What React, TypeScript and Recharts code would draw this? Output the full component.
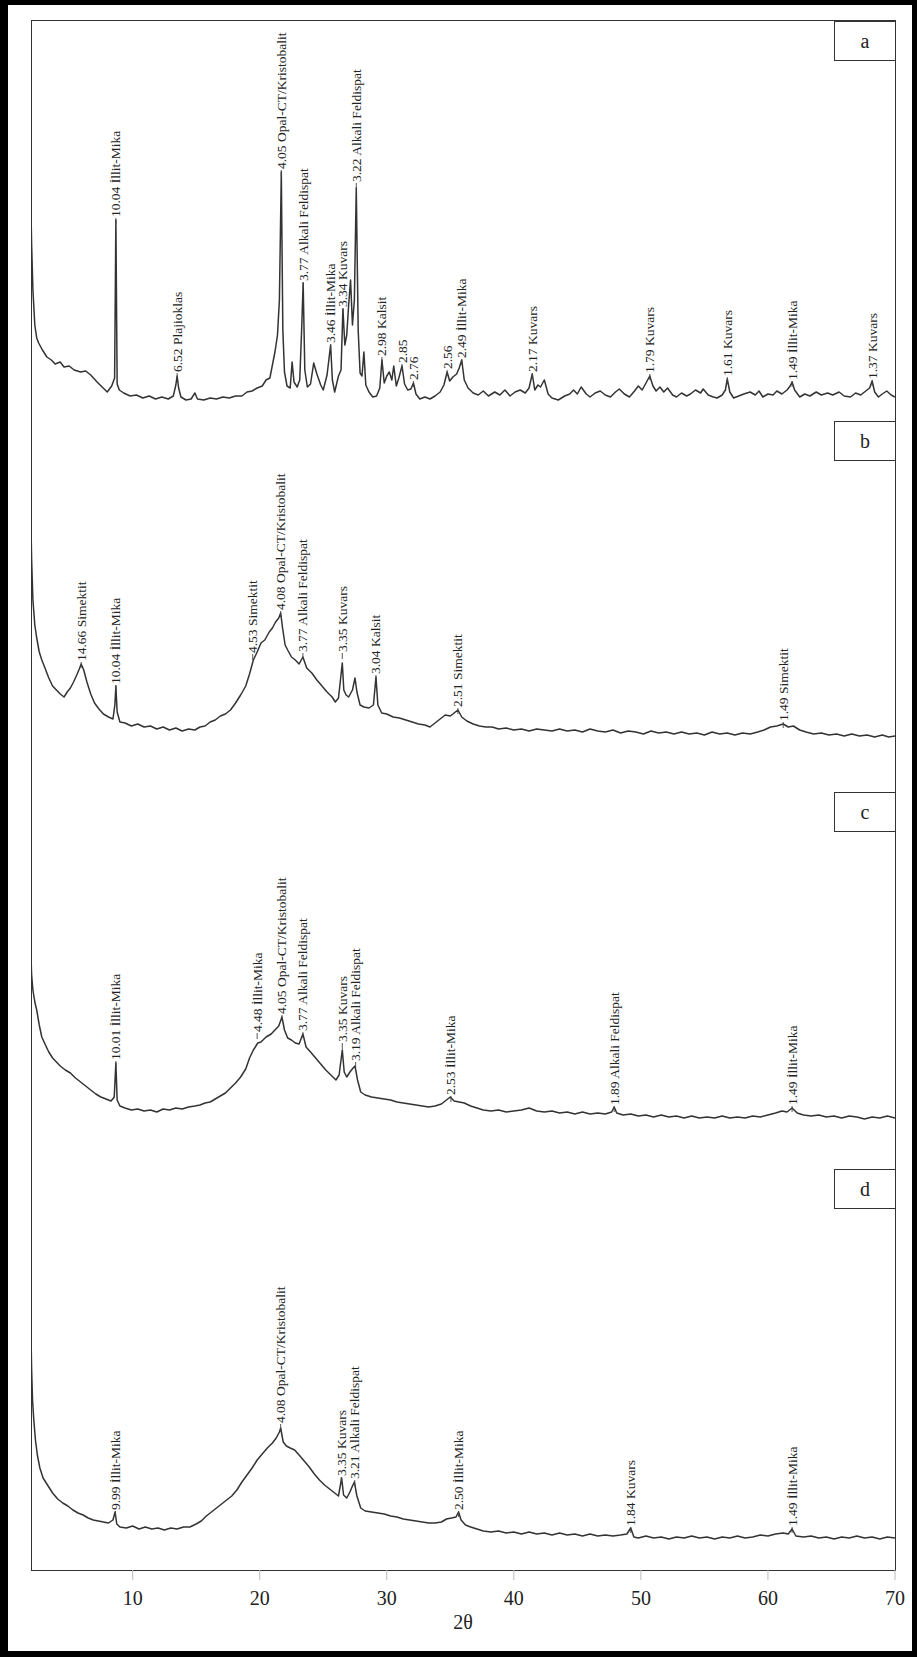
import React from 'react'
import { ComposedChart, Line, Scatter, XAxis, YAxis } from 'recharts'

// 2θ tick labels on the shared bottom axis
const tickValues = [10, 20, 30, 40, 50, 60, 70]

// [2θ, intensity] (arbitrary counts)
const traceA: [number, number][] = [
  [2.0, 197], [2.05, 165], [2.15, 120], [2.3, 85], [2.45, 72], [2.6, 67], [2.9, 60], [3.25, 53],
  [3.6, 50], [3.9, 46], [4.3, 48], [4.6, 43], [5.0, 44], [5.4, 40], [5.9, 38], [6.3, 39],
  [6.7, 35], [7.2, 28], [7.6, 23], [8.0, 18], [8.35, 24], [8.58, 32], [8.68, 190], [8.78, 26],
  [8.95, 20], [9.3, 17], [9.8, 14], [10.3, 15], [10.8, 12], [11.3, 14], [11.8, 11], [12.3, 13],
  [12.8, 11], [13.2, 14], [13.4, 25], [13.5, 34], [13.62, 22], [13.8, 13], [14.2, 10], [14.6, 11],
  [14.9, 17], [15.1, 11], [15.6, 10], [16.1, 12], [16.6, 11], [17.1, 13], [17.6, 12], [18.1, 14],
  [18.6, 14], [19.0, 18], [19.4, 19], [19.8, 22], [20.2, 24], [20.5, 30], [20.8, 32], [21.0, 45],
  [21.2, 58], [21.4, 75], [21.55, 110], [21.7, 238], [21.82, 80], [21.95, 38], [22.15, 24], [22.4, 22],
  [22.55, 48], [22.7, 28], [22.95, 23], [23.15, 30], [23.3, 80], [23.42, 127], [23.55, 40], [23.75, 23],
  [24.0, 26], [24.25, 47], [24.5, 36], [24.8, 25], [25.0, 20], [25.3, 35], [25.58, 65], [25.72, 30],
  [25.9, 18], [26.2, 34], [26.4, 40], [26.55, 101], [26.7, 65], [26.85, 75], [27.0, 105], [27.15, 130],
  [27.3, 85], [27.45, 110], [27.6, 222], [27.75, 80], [27.9, 37], [28.05, 34], [28.2, 58], [28.35, 25],
  [28.6, 18], [28.9, 13], [29.2, 14], [29.45, 22], [29.62, 50], [29.8, 27], [30.0, 34], [30.2, 38],
  [30.4, 30], [30.55, 44], [30.75, 24], [30.95, 32], [31.2, 44], [31.4, 26], [31.65, 20], [31.9, 21],
  [32.1, 27], [32.3, 16], [32.6, 11], [33.0, 13], [33.4, 11], [33.8, 14], [34.2, 18], [34.5, 25],
  [34.75, 38], [34.95, 29], [35.2, 33], [35.5, 36], [35.7, 42], [35.9, 50], [36.1, 30], [36.4, 22],
  [36.8, 17], [37.2, 15], [37.6, 19], [38.0, 14], [38.5, 18], [38.9, 15], [39.3, 20], [39.7, 14],
  [40.1, 18], [40.5, 20], [40.9, 17], [41.2, 22], [41.45, 36], [41.65, 20], [41.9, 25], [42.1, 23],
  [42.4, 30], [42.7, 16], [43.0, 12], [43.5, 10], [44.0, 14], [44.4, 16], [44.7, 20], [45.0, 16],
  [45.3, 23], [45.7, 16], [46.0, 13], [46.4, 17], [46.8, 19], [47.2, 15], [47.6, 13], [48.0, 18],
  [48.3, 21], [48.7, 16], [49.1, 13], [49.5, 19], [49.8, 24], [50.1, 20], [50.4, 27], [50.7, 34],
  [50.95, 24], [51.2, 19], [51.5, 23], [51.8, 18], [52.1, 22], [52.5, 15], [52.8, 13], [53.2, 17],
  [53.6, 14], [53.9, 16], [54.3, 20], [54.7, 17], [54.9, 21], [55.3, 15], [55.7, 13], [56.0, 12],
  [56.4, 15], [56.65, 20], [56.8, 31], [57.0, 18], [57.3, 12], [57.7, 14], [58.1, 16], [58.6, 18],
  [59.0, 15], [59.3, 19], [59.6, 13], [60.0, 16], [60.4, 15], [60.7, 19], [61.1, 16], [61.5, 20],
  [61.75, 24], [61.9, 28], [62.1, 20], [62.5, 13], [62.9, 16], [63.3, 14], [63.8, 18], [64.2, 15],
  [64.7, 17], [65.1, 15], [65.6, 18], [66.0, 14], [66.5, 13], [66.9, 17], [67.3, 15], [67.7, 19],
  [68.0, 22], [68.2, 29], [68.4, 18], [68.7, 13], [69.0, 16], [69.35, 19], [69.7, 15], [70.0, 13],
]

const traceB: [number, number][] = [
  [2.0, 248], [2.05, 215], [2.15, 175], [2.3, 150], [2.45, 137], [2.65, 123], [2.85, 115], [3.1, 107],
  [3.4, 97], [3.7, 89], [4.0, 85], [4.3, 81], [4.6, 78], [4.85, 83], [5.1, 87], [5.35, 93],
  [5.6, 100], [5.8, 106], [5.95, 111], [6.15, 105], [6.4, 93], [6.7, 81], [7.0, 72], [7.35, 66],
  [7.7, 61], [8.1, 58], [8.45, 56], [8.6, 70], [8.68, 89], [8.78, 63], [9.0, 53], [9.4, 52],
  [9.9, 49], [10.4, 51], [10.9, 48], [11.4, 49], [11.9, 46], [12.4, 48], [12.9, 45], [13.4, 47],
  [13.9, 44], [14.4, 46], [14.9, 45], [15.3, 48], [15.7, 49], [16.1, 53], [16.5, 55], [16.9, 59],
  [17.3, 61], [17.7, 65], [18.1, 72], [18.5, 80], [18.9, 89], [19.2, 101], [19.5, 115], [19.8, 123],
  [20.1, 132], [20.4, 135], [20.75, 143], [21.0, 147], [21.25, 153], [21.5, 157], [21.65, 162], [21.8, 147],
  [22.0, 130], [22.2, 125], [22.5, 118], [22.8, 115], [23.1, 111], [23.4, 118], [23.7, 107], [24.1, 102],
  [24.5, 95], [24.9, 89], [25.3, 83], [25.7, 78], [25.95, 73], [26.2, 77], [26.5, 112], [26.62, 85],
  [26.8, 80], [27.0, 78], [27.3, 85], [27.5, 97], [27.65, 83], [27.9, 70], [28.2, 68], [28.6, 67],
  [28.95, 70], [29.15, 98], [29.3, 70], [29.6, 62], [30.0, 61], [30.5, 58], [31.0, 57], [31.5, 55],
  [32.0, 53], [32.5, 51], [33.0, 50], [33.4, 48], [33.8, 52], [34.2, 56], [34.6, 60], [35.0, 59],
  [35.3, 62], [35.6, 65], [35.9, 58], [36.3, 54], [36.8, 51], [37.3, 49], [37.8, 48], [38.3, 48],
  [38.8, 46], [39.4, 47], [40.0, 45], [40.6, 46], [41.2, 44], [41.8, 46], [42.4, 45], [43.0, 44],
  [43.6, 46], [44.2, 44], [44.8, 45], [45.4, 43], [46.0, 46], [46.6, 44], [47.2, 43], [47.8, 45],
  [48.4, 42], [49.0, 44], [49.6, 43], [50.2, 41], [50.8, 44], [51.4, 42], [52.0, 43], [52.6, 41],
  [53.2, 43], [53.8, 41], [54.4, 42], [55.0, 40], [55.6, 43], [56.2, 41], [56.8, 42], [57.4, 40],
  [58.0, 42], [58.6, 41], [59.2, 43], [59.7, 45], [60.2, 48], [60.7, 49], [61.2, 51], [61.6, 48],
  [62.0, 49], [62.5, 45], [63.0, 43], [63.6, 41], [64.2, 42], [64.8, 40], [65.4, 41], [66.0, 39],
  [66.6, 41], [67.2, 39], [67.8, 40], [68.4, 38], [69.0, 40], [69.5, 38], [70.0, 39],
]

const traceC: [number, number][] = [
  [2.0, 203], [2.05, 185], [2.15, 170], [2.3, 158], [2.45, 150], [2.65, 135], [2.85, 123], [3.1, 116],
  [3.4, 108], [3.7, 102], [4.0, 98], [4.3, 94], [4.7, 90], [5.1, 87], [5.5, 82], [5.9, 78],
  [6.3, 74], [6.7, 70], [7.1, 66], [7.5, 63], [7.9, 61], [8.3, 59], [8.55, 63], [8.68, 97],
  [8.78, 60], [9.0, 54], [9.4, 52], [9.9, 50], [10.4, 51], [10.9, 49], [11.4, 50], [11.9, 48],
  [12.4, 51], [12.9, 50], [13.4, 52], [13.9, 51], [14.4, 53], [14.9, 54], [15.3, 55], [15.7, 57],
  [16.1, 58], [16.5, 61], [16.9, 64], [17.3, 67], [17.7, 72], [18.1, 77], [18.5, 83], [18.9, 91],
  [19.2, 102], [19.5, 110], [19.85, 117], [20.1, 118], [20.5, 123], [20.9, 126], [21.2, 130], [21.5, 134],
  [21.75, 143], [21.95, 130], [22.2, 122], [22.5, 120], [22.8, 117], [23.1, 116], [23.4, 126], [23.65, 113],
  [24.0, 108], [24.4, 102], [24.8, 96], [25.2, 90], [25.6, 85], [26.0, 80], [26.25, 85], [26.5, 110],
  [26.65, 88], [26.85, 83], [27.1, 88], [27.35, 92], [27.5, 94], [27.7, 80], [27.95, 68], [28.3, 65],
  [28.8, 63], [29.3, 62], [29.8, 61], [30.3, 60], [30.8, 58], [31.3, 57], [31.8, 56], [32.3, 55],
  [32.8, 54], [33.3, 53], [33.8, 54], [34.3, 56], [34.7, 60], [35.0, 63], [35.3, 59], [35.7, 58],
  [36.1, 57], [36.6, 54], [37.1, 52], [37.6, 50], [38.2, 49], [38.8, 50], [39.4, 48], [40.0, 49],
  [40.6, 50], [41.2, 52], [41.8, 49], [42.4, 48], [43.0, 49], [43.6, 47], [44.2, 48], [44.8, 46],
  [45.4, 48], [46.0, 46], [46.6, 47], [47.2, 46], [47.7, 48], [47.9, 53], [48.1, 47], [48.6, 45],
  [49.2, 46], [49.8, 44], [50.4, 45], [51.0, 43], [51.6, 45], [52.2, 43], [52.8, 44], [53.4, 42],
  [54.0, 44], [54.6, 42], [55.2, 43], [55.8, 42], [56.4, 44], [57.0, 42], [57.6, 43], [58.2, 42],
  [58.8, 44], [59.4, 43], [60.0, 45], [60.6, 47], [61.1, 49], [61.5, 48], [61.9, 52], [62.3, 47],
  [62.8, 45], [63.4, 44], [64.0, 45], [64.6, 43], [65.2, 44], [65.8, 42], [66.4, 44], [67.0, 43],
  [67.6, 41], [68.2, 43], [68.8, 42], [69.4, 44], [70.0, 42],
]

const traceD: [number, number][] = [
  [2.0, 235], [2.05, 200], [2.12, 170], [2.22, 150], [2.35, 130], [2.5, 115], [2.7, 102], [2.95, 92],
  [3.3, 85], [3.7, 77], [4.1, 71], [4.5, 67], [4.9, 64], [5.3, 60], [5.7, 57], [6.1, 55],
  [6.5, 52], [6.9, 50], [7.3, 49], [7.7, 48], [8.1, 47], [8.45, 50], [8.62, 58], [8.75, 46],
  [9.0, 43], [9.5, 42], [10.0, 44], [10.5, 41], [11.0, 43], [11.5, 41], [12.0, 42], [12.5, 40],
  [13.0, 42], [13.5, 41], [14.0, 43], [14.5, 43], [15.0, 46], [15.4, 49], [15.8, 54], [16.2, 58],
  [16.6, 62], [17.0, 66], [17.4, 70], [17.8, 74], [18.2, 80], [18.6, 88], [19.0, 95], [19.4, 102],
  [19.8, 110], [20.2, 116], [20.6, 122], [21.0, 127], [21.3, 132], [21.55, 138], [21.65, 142], [21.85, 128],
  [22.1, 124], [22.4, 122], [22.75, 120], [23.1, 115], [23.5, 109], [23.9, 103], [24.3, 96], [24.7, 90],
  [25.1, 85], [25.5, 81], [25.9, 77], [26.2, 74], [26.45, 92], [26.6, 75], [26.85, 72], [27.1, 78],
  [27.3, 84], [27.45, 88], [27.65, 74], [27.95, 62], [28.3, 59], [28.8, 58], [29.3, 57], [29.8, 56],
  [30.3, 54], [30.8, 53], [31.3, 51], [31.8, 50], [32.3, 49], [32.8, 48], [33.3, 47], [33.8, 47],
  [34.3, 48], [34.7, 51], [35.1, 52], [35.45, 53], [35.65, 58], [35.85, 50], [36.2, 45], [36.6, 43],
  [37.1, 41], [37.6, 39], [38.2, 38], [38.8, 39], [39.4, 37], [40.0, 38], [40.6, 36], [41.2, 38],
  [41.8, 36], [42.4, 37], [43.0, 35], [43.6, 37], [44.2, 35], [44.8, 36], [45.4, 34], [46.0, 36],
  [46.6, 34], [47.2, 35], [47.8, 34], [48.4, 35], [48.9, 36], [49.2, 42], [49.45, 33], [49.8, 32],
  [50.4, 34], [51.0, 32], [51.6, 33], [52.2, 31], [52.8, 33], [53.4, 32], [54.0, 34], [54.6, 32],
  [55.2, 33], [55.8, 31], [56.4, 33], [57.0, 32], [57.6, 34], [58.2, 32], [58.8, 33], [59.4, 35],
  [60.0, 34], [60.6, 36], [61.2, 37], [61.6, 36], [61.9, 41], [62.2, 34], [62.8, 33], [63.4, 34],
  [64.0, 32], [64.6, 33], [65.2, 31], [65.8, 33], [66.4, 32], [67.0, 34], [67.6, 32], [68.2, 33],
  [68.8, 31], [69.4, 33], [70.0, 32],
]

// [2θ, label height, d-spacing + mineral]
const peaksA: [number, number, string][] = [
  [8.68, 192, '10.04 İllit-Mika'],
  [13.5, 37, '6.52 Plajioklas'],
  [21.7, 240, '4.05 Opal-CT/Kristobalit'],
  [23.42, 128, '3.77 Alkali Feldispat'],
  [25.58, 66, '3.46 İllit-Mika'],
  [26.55, 102, '3.34 Kuvars'],
  [27.6, 227, '3.22 Alkali Feldispat'],
  [29.62, 53, '2.98 Kalsit'],
  [31.2, 46, '2.85'],
  [32.1, 29, '2.76'],
  [34.75, 40, '2.56'],
  [35.9, 51, '2.49 İllit-Mika'],
  [41.45, 37, '2.17 Kuvars'],
  [50.7, 36, '1.79 Kuvars'],
  [56.8, 33, '1.61 Kuvars'],
  [61.9, 29, '1.49 İllit-Mika'],
  [68.2, 30, '1.37 Kuvars'],
]

const peaksB: [number, number, string][] = [
  [5.95, 113, '14.66 Simektit'],
  [8.68, 90, '10.04 İllit-Mika'],
  [19.45, 121, '4.53 Simektit'],
  [21.65, 164, '4.08 Opal-CT/Kristobalit'],
  [23.4, 122, '3.77 Alkali Feldispat'],
  [26.5, 122, '3.35 Kuvars'],
  [29.15, 100, '3.04 Kalsit'],
  [35.6, 67, '2.51 Simektit'],
  [61.2, 53, '1.49 Simektit'],
]

const peaksC: [number, number, string][] = [
  [8.68, 99, '10.01 İllit-Mika'],
  [19.8, 127, '4.48 İllit-Mika'],
  [21.75, 145, '4.05 Opal-CT/Kristobalit'],
  [23.4, 128, '3.77 Alkali Feldispat'],
  [26.5, 117, '3.35 Kuvars'],
  [27.55, 98, '3.19 Alkali Feldispat'],
  [35.05, 64, '2.53 İllit-Mika'],
  [47.9, 54, '1.89 Alkali Feldispat'],
  [61.9, 54, '1.49 İllit-Mika'],
]

const peaksD: [number, number, string][] = [
  [8.65, 59, '9.99 İllit-Mika'],
  [21.65, 146, '4.08 Opal-CT/Kristobalit'],
  [26.42, 93, '3.35 Kuvars'],
  [27.48, 90, '3.21 Alkali Feldispat'],
  [35.65, 59, '2.50 İllit-Mika'],
  [49.2, 43, '1.84 Kuvars'],
  [61.9, 43, '1.49 İllit-Mika'],
]

const panelLetters = ['a', 'b', 'c', 'd']

const serif = '"Liberation Serif", "Times New Roman", serif'

function PeakNote(props: any) {
  const { cx, cy, payload } = props
  if (cx == null || cy == null) return null
  return (
    <g>
      <line x1={cx} y1={cy} x2={cx} y2={cy + 6} stroke="#444" strokeWidth={0.9} />
      <text
        x={cx}
        y={cy - 1}
        transform={`rotate(-90 ${cx} ${cy - 1})`}
        textAnchor="start"
        dominantBaseline="central"
        fontSize={13.5}
        fontFamily={serif}
        fill="#222"
      >
        {payload.label}
      </text>
    </g>
  )
}

function XrdPanel({
  top,
  bottom,
  trace,
  peaks,
  showAxis = false,
}: {
  top: number
  bottom: number
  trace: [number, number][]
  peaks: [number, number, string][]
  showAxis?: boolean
}) {
  const h = bottom - top
  const data = trace.map(([t, i]) => ({ t, i }))
  const notes = peaks.map(([t, i, label]) => ({ t, i, label }))

  return (
    <div style={{ position: 'absolute', left: 31, top }}>
      <ComposedChart
        width={894}
        height={h + (showAxis ? 70 : 0)}
        margin={{ top: 0, right: 30, bottom: 0, left: 0 }}
      >
        <XAxis
          type="number"
          dataKey="t"
          domain={[2, 70]}
          allowDataOverflow
          ticks={tickValues}
          interval={0}
          hide={!showAxis}
          height={70}
          axisLine={false}
          tickLine={{ stroke: '#bbb' }}
          tickSize={10}
          tickMargin={11}
          tick={{ fill: '#222', fontSize: 20, fontFamily: serif }}
        />
        <YAxis type="number" domain={[0, h]} allowDataOverflow hide />
        <Line
          data={data}
          dataKey="i"
          type="linear"
          stroke="#333"
          strokeWidth={1.5}
          strokeLinejoin="round"
          dot={false}
          isAnimationActive={false}
        />
        <Scatter data={notes} dataKey="i" shape={PeakNote} isAnimationActive={false} />
      </ComposedChart>
    </div>
  )
}

export default function App() {
  const letterTops = [21, 421, 792, 1169]

  return (
    <div style={{ position: 'absolute', left: 0, top: 0, width: 917, height: 1657, background: '#fff' }}>
      {/* thick outer frame */}
      <div
        style={{
          position: 'absolute', left: 0, top: 0, width: 917, height: 1657,
          boxSizing: 'border-box', borderStyle: 'solid', borderColor: '#000',
          borderWidth: '5px 5px 6px 8px',
        }}
      />
      {/* plot box */}
      <div
        style={{
          position: 'absolute', left: 31, top: 20, width: 865, height: 1551,
          boxSizing: 'border-box', border: '1px solid #333',
        }}
      />

      <XrdPanel top={20} bottom={410} trace={traceA} peaks={peaksA} />
      <XrdPanel top={410} bottom={775} trace={traceB} peaks={peaksB} />
      <XrdPanel top={775} bottom={1160} trace={traceC} peaks={peaksC} />
      <XrdPanel top={1160} bottom={1570} trace={traceD} peaks={peaksD} showAxis />

      {panelLetters.map((l, idx) => (
        <div
          key={l}
          style={{
            position: 'absolute', left: 834, top: letterTops[idx], width: 62, height: 40,
            boxSizing: 'border-box', border: '1px solid #333', background: '#fff',
            display: 'flex', alignItems: 'center', justifyContent: 'center',
            fontFamily: serif, fontSize: 20, color: '#222',
          }}
        >
          {l}
        </div>
      ))}

      <div
        style={{
          position: 'absolute', left: 413, top: 1612, width: 100, lineHeight: '20px',
          textAlign: 'center', fontFamily: serif, fontSize: 20, color: '#222',
        }}
      >
        2θ
      </div>
    </div>
  )
}
